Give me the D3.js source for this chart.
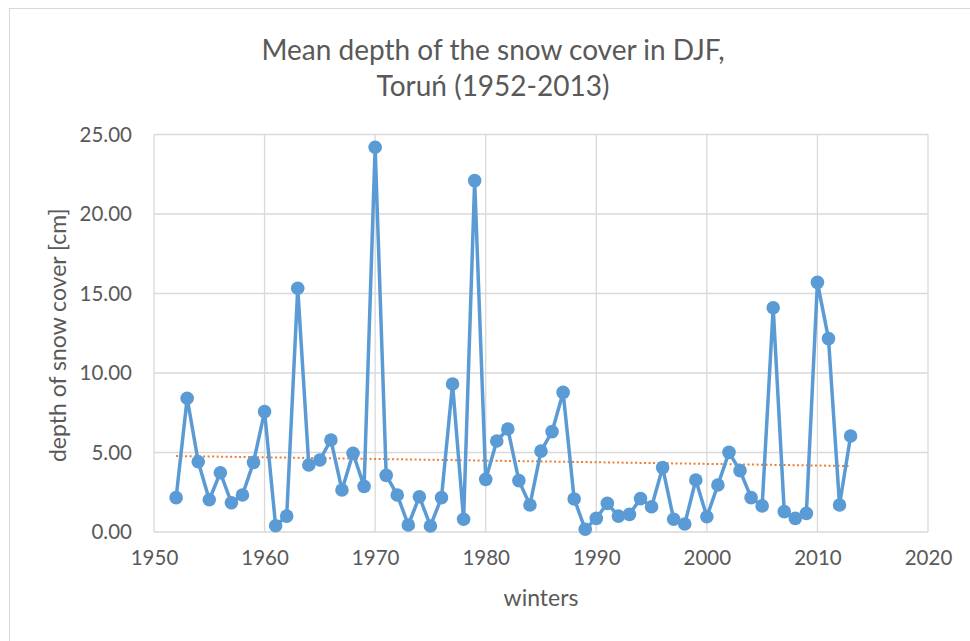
<!DOCTYPE html>
<html>
<head>
	<meta charset="UTF-8">
	<script src="https://d3js.org/d3.v7.min.js"></script>
	<title>Snow cover Toruń</title>
	<style>
		body { margin: 0; background: #fff; }
		text { font-family: Lato, "Open Sans", sans-serif; }
	</style>
</head>
<body>
	<svg></svg>
	<script type="text/javascript">

		const years = [1952, 1953, 1954, 1955, 1956, 1957, 1958, 1959, 1960, 1961,
			1962, 1963, 1964, 1965, 1966, 1967, 1968, 1969, 1970, 1971,
			1972, 1973, 1974, 1975, 1976, 1977, 1978, 1979, 1980, 1981,
			1982, 1983, 1984, 1985, 1986, 1987, 1988, 1989, 1990, 1991,
			1992, 1993, 1994, 1995, 1996, 1997, 1998, 1999, 2000, 2001,
			2002, 2003, 2004, 2005, 2006, 2007, 2008, 2009, 2010, 2011,
			2012, 2013];

		const depth = [2.16, 8.41, 4.42, 2.03, 3.73, 1.84, 2.33, 4.38, 7.57, 0.39,
			1.00, 15.33, 4.21, 4.53, 5.79, 2.64, 4.95, 2.87, 24.20, 3.56,
			2.33, 0.44, 2.22, 0.38, 2.16, 9.31, 0.80, 22.10, 3.31, 5.72,
			6.48, 3.23, 1.70, 5.09, 6.31, 8.78, 2.08, 0.17, 0.86, 1.80,
			1.00, 1.11, 2.10, 1.59, 4.05, 0.80, 0.50, 3.27, 0.96, 2.96,
			5.01, 3.86, 2.16, 1.64, 14.10, 1.28, 0.86, 1.17, 15.70, 12.16,
			1.70, 6.04];

		// linear trend (Excel trendline), start and end values
		const trendYears = [1952, 2013];
		const trendValues = [4.78, 4.15];

		const xTicks = [1950, 1960, 1970, 1980, 1990, 2000, 2010, 2020];
		const yTicks = [0, 5, 10, 15, 20, 25];

		const titleLines = ["Mean depth of the snow cover in DJF,", "Toruń (1952-2013)"];

		const margin = {top: 134.5, right: 42, bottom: 109, left: 154};
		const width = 970;
		const height = 641;

		const data = years.map((y, i) => ({year: y, value: depth[i]}));

		const x = d3.scaleLinear()
			.domain([1950, 2020])
			.range([margin.left, width - margin.right]);

		const y = d3.scaleLinear()
			.domain([0, 25])
			.range([height - margin.bottom, margin.top]);

		const svg = d3.select("svg")
			.attr("width", width)
			.attr("height", height)
			.attr("viewBox", [0, 0, width, height]);

		// chart frame
		svg.append("rect")
			.attr("x", 9.5)
			.attr("y", 8.5)
			.attr("width", width + 20)
			.attr("height", height + 20)
			.attr("fill", "#fff")
			.attr("stroke", "#d9d9d9");

		// grid
		svg.append("g")
			.selectAll("line")
			.data(yTicks)
			.join("line")
				.attr("x1", margin.left)
				.attr("x2", width - margin.right)
				.attr("y1", d => y(d))
				.attr("y2", d => y(d))
				.attr("stroke", "#d9d9d9")
				.attr("stroke-width", 1.3);

		svg.append("g")
			.selectAll("line")
			.data(xTicks)
			.join("line")
				.attr("x1", d => x(d))
				.attr("x2", d => x(d))
				.attr("y1", margin.top)
				.attr("y2", height - margin.bottom)
				.attr("stroke", "#d9d9d9")
				.attr("stroke-width", 1.3);

		const xAxis = g => g
			.attr("transform", `translate(0,${height - margin.bottom})`)
			.call(d3.axisBottom(x).tickValues(xTicks).tickFormat(d3.format("d")).tickSize(0).tickPadding(18))
			.call(g => g.select(".domain").remove());

		const yAxis = g => g
			.attr("transform", `translate(${margin.left},0)`)
			.call(d3.axisLeft(y).tickValues(yTicks).tickFormat(d3.format(".2f")).tickSize(0).tickPadding(22))
			.call(g => g.select(".domain").remove());

		svg.append("g").call(xAxis);
		svg.append("g").call(yAxis);

		svg.selectAll(".tick text")
			.attr("fill", "#595959")
			.attr("font-size", 20.5)
			.attr("font-family", "Lato");

		// trend line
		svg.append("path")
			.datum(trendYears.map((t, i) => [t, trendValues[i]]))
			.attr("fill", "none")
			.attr("stroke", "#ed7d31")
			.attr("stroke-width", 2)
			.attr("stroke-dasharray", "2,2.5")
			.attr("d", d3.line().x(d => x(d[0])).y(d => y(d[1])));

		// series
		svg.append("path")
			.datum(data)
			.attr("fill", "none")
			.attr("stroke", "#5b9bd5")
			.attr("stroke-width", 3.5)
			.attr("stroke-linejoin", "round")
			.attr("d", d3.line().x(d => x(d.year)).y(d => y(d.value)));

		svg.append("g")
			.selectAll("circle")
			.data(data)
			.join("circle")
				.attr("cx", d => x(d.year))
				.attr("cy", d => y(d.value))
				.attr("r", 6.8)
				.attr("fill", "#5b9bd5");

		// titles
		svg.append("g")
			.selectAll("text")
			.data(titleLines)
			.join("text")
				.attr("x", 493)
				.attr("y", (d, i) => 60 + i * 36)
				.attr("text-anchor", "middle")
				.attr("fill", "#595959")
				.attr("font-size", 28)
				.text(d => d);

		svg.append("text")
			.attr("x", x(1985))
			.attr("y", 606)
			.attr("text-anchor", "middle")
			.attr("fill", "#595959")
			.attr("font-size", 23)
			.text("winters");

		svg.append("text")
			.attr("transform", `translate(66,${(y(0) + y(25)) / 2 + 2}) rotate(-90)`)
			.attr("text-anchor", "middle")
			.attr("fill", "#595959")
			.attr("font-size", 23)
			.text("depth of snow cover [cm]");

	</script>
</body>
</html>
